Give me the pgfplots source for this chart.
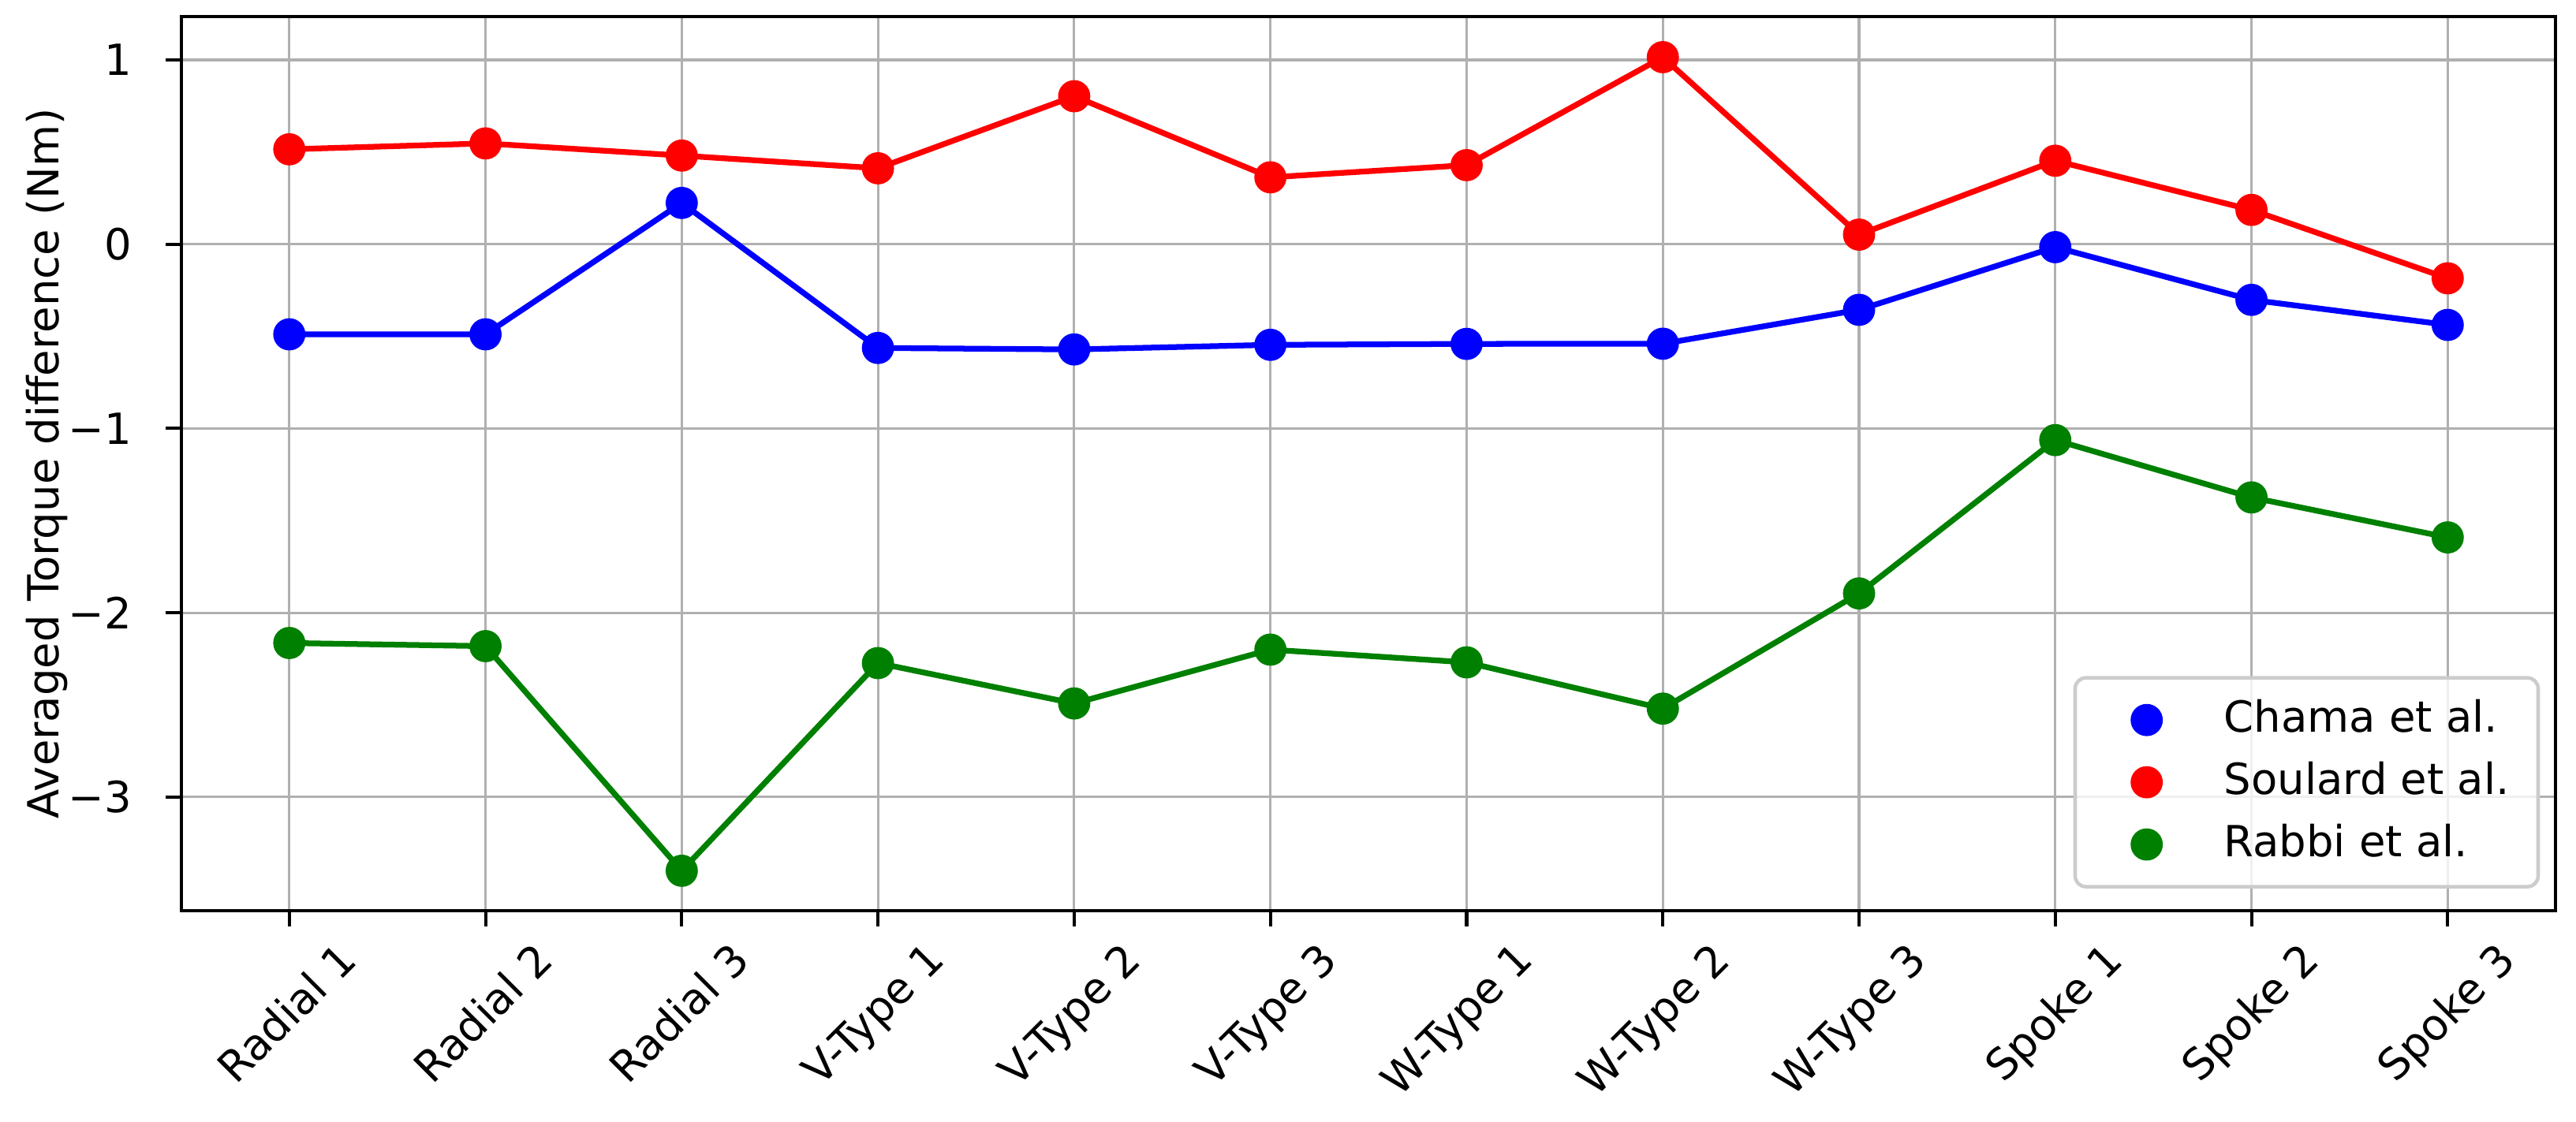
\documentclass[border=0pt]{standalone}
\usepackage{fontspec}
\setmainfont{DejaVu Sans}
\usepackage{pgfplots}
\pgfplotsset{compat=1.18}
\definecolor{gridgray}{HTML}{B0B0B0}
\definecolor{mplgreen}{RGB}{0,128,0}
\definecolor{legframe}{HTML}{CCCCCC}
\begin{document}
\fontsize{12}{14.4}\selectfont
\begin{tikzpicture}
\begin{axis}[
  name=ax,
  scale only axis,
  width=663.6pt, height=250pt,
  xmin=-0.55, xmax=11.55,
  ymin=-3.616, ymax=1.236,
  xtick={0,1,2,3,4,5,6,7,8,9,10,11},
  xticklabels={Radial 1,Radial 2,Radial 3,V-Type 1,V-Type 2,V-Type 3,W-Type 1,W-Type 2,W-Type 3,Spoke 1,Spoke 2,Spoke 3},
  ytick={-3,-2,-1,0,1},
  yticklabels={−3,−2,−1,0,1},
  /pgf/number format/assume math mode=true,
  tick label style={font=\fontsize{12}{14.4}\selectfont},
  xticklabel style={xshift=13pt, yshift=-3.5pt, rotate=45, anchor=north east, inner sep=0pt},
  yticklabel style={xshift=-9.3pt, inner sep=0pt, anchor=east},
  grid=major,
  major grid style={gridgray, line width=0.7pt},
  tick align=outside,
  tick pos=left,
  major tick length=4.4pt,
  tick style={black, line width=0.9pt},
  axis line style={black, line width=0.9pt},
  ylabel={Averaged Torque difference (Nm)},
  ylabel style={at={(axis description cs:-0.0565,0.5)}, anchor=center, font=\fontsize{12}{14.4}\selectfont},
  legend image code/.code={\path[draw=none, fill=none] (0pt,-4.4pt) rectangle (24pt,4.4pt); \draw[#1, line width=0.8pt, opacity=1, fill opacity=1, draw opacity=1] plot[only marks] coordinates {(12pt,0pt)};},
  legend style={at={(0.9934,0.0247)}, anchor=south east, draw=legframe, line width=1pt, rounded corners=3pt,
    fill=white, fill opacity=0.8, text opacity=1, font=\fontsize{12}{14.4}\selectfont,
    inner xsep=8pt, inner ysep=5.9pt, row sep=5.6pt,
    nodes={inner sep=0pt, text height=9.2pt, text depth=2.6pt},
    /tikz/column 1/.style={column sep=9.6pt}},
  legend cell align=left,
]
\addplot[blue, line width=1.6pt, mark=*, mark size=4.1pt, mark options={line width=0.8pt}, forget plot] coordinates {
(0,-0.489) (1,-0.489) (2,0.224) (3,-0.563) (4,-0.571) (5,-0.546) (6,-0.541) (7,-0.540) (8,-0.356) (9,-0.016) (10,-0.302) (11,-0.438)};
\addplot[red, line width=1.6pt, mark=*, mark size=4.1pt, mark options={line width=0.8pt}, forget plot] coordinates {
(0,0.515) (1,0.547) (2,0.481) (3,0.412) (4,0.803) (5,0.363) (6,0.429) (7,1.015) (8,0.052) (9,0.453) (10,0.186) (11,-0.185)};
\addplot[mplgreen, line width=1.6pt, mark=*, mark size=4.1pt, mark options={line width=0.8pt}, forget plot] coordinates {
(0,-2.164) (1,-2.181) (2,-3.400) (3,-2.273) (4,-2.492) (5,-2.200) (6,-2.269) (7,-2.520) (8,-1.895) (9,-1.063) (10,-1.374) (11,-1.591)};
\addlegendimage{blue, mark=*, mark size=4.1pt}
\addlegendentry{Chama et al.}
\addlegendimage{red, mark=*, mark size=4.1pt}
\addlegendentry{Soulard et al.}
\addlegendimage{mplgreen, mark=*, mark size=4.1pt}
\addlegendentry{Rabbi et al.}
\end{axis}
\pgfresetboundingbox
\path (ax.south west) ++(-50.7pt,-59.1pt) rectangle ([shift={(5.7pt,4.6pt)}]ax.north east);
\end{tikzpicture}
\end{document}
